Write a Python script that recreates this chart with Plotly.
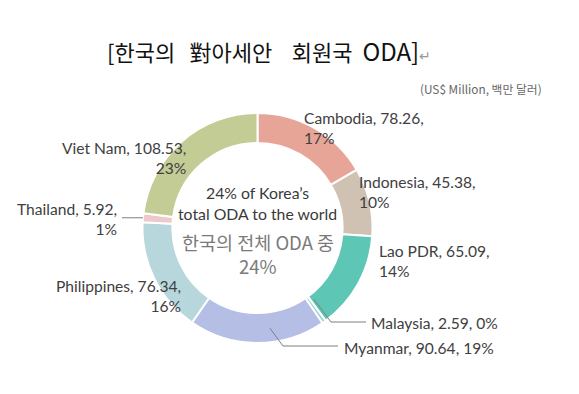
import math
import plotly.graph_objects as go

# ---- data ----
countries = ["Cambodia", "Indonesia", "Lao PDR", "Malaysia", "Myanmar",
             "Philippines", "Thailand", "Viet Nam"]
oda_values = [78.26, 45.38, 65.09, 2.59, 90.64, 76.34, 5.92, 108.53]
pct_labels = ["17%", "10%", "14%", "0%", "19%", "16%", "1%", "23%"]

title_words = ["[한국의", "對아세안", "회원국", "ODA]"]
unit_text = "(US$ Million, 백만 달러)"
center_lines_en = ["24% of Korea’s", "total ODA to the world"]
center_lines_ko = ["한국의 전체 ODA 중", "24%"]

# ---- styles / layout ----
W, H = 579, 394
colors = ["#E7A598", "#CFC2B2", "#5EC6B4", "#9FD3CC", "#B5BEE5",
          "#B7D7DD", "#EEC8CB", "#C3CC95"]
CX, CY, R = 257.5, 228.0, 115.0
HOLE = 0.74
FONT_EN = "Lato, Noto Sans, sans-serif"
FONT_KO = "Noto Sans CJK KR, Noto Sans, sans-serif"

def px(x):
    return x / W

def py(y):
    return 1 - y / H

# label layout: (x, y of first line, anchor, second line on new line?)
label_pos = {
    "Cambodia": (302, 117, "left", True),
    "Indonesia": (357, 181, "left", True),
    "Lao PDR": (377, 250, "left", True),
    "Malaysia": (369, 322, "left", False),
    "Myanmar": (342, 347, "left", False),
    "Philippines": (183, 285, "right", True),
    "Thailand": (119, 208, "right", True),
    "Viet Nam": (188, 147, "right", True),
}

fig = go.Figure()
fig.add_trace(go.Pie(
    labels=countries, values=oda_values, sort=False, direction="clockwise",
    rotation=0, hole=HOLE, textinfo="none", hoverinfo="label+value+percent",
    marker=dict(colors=colors, line=dict(color="white", width=2)),
    domain=dict(x=[px(CX - R), px(CX + R)], y=[py(CY + R), py(CY - R)]),
    showlegend=False,
))

annotations = []
for name, val, pct in zip(countries, oda_values, pct_labels):
    x, y, side, two = label_pos[name]
    txt = f"{name}, {val:.2f},<br>{pct}" if two else f"{name}, {val:.2f}, {pct}"
    annotations.append(dict(
        x=px(x), y=py(y - 10), xref="paper", yref="paper", text=txt,
        showarrow=False, xanchor=side, yanchor="top", align=side,
        font=dict(family=FONT_EN, size=15.6, color="#404040"),
    ))

sp = "\u00a0"
title_html = (title_words[0] + sp * 2 + "\u2009" + title_words[1] + sp * 4
              + title_words[2] + sp * 2 + "<span style='font-size:24px'>"
              + title_words[3] + "</span>"
              + "<span style='color:#999;font-size:14px'>↵</span>")
annotations.append(dict(
    x=px(105), y=py(50), xref="paper", yref="paper", text=title_html,
    showarrow=False, xanchor="left", yanchor="middle",
    font=dict(family=FONT_KO, size=22, color="#111111"),
))
annotations.append(dict(
    x=px(544), y=py(88), xref="paper", yref="paper", text=unit_text,
    showarrow=False, xanchor="right", yanchor="middle",
    font=dict(family=FONT_KO, size=11.8, color="#666666"),
))
for i, t in enumerate(center_lines_en):
    annotations.append(dict(
        x=px(CX), y=py(192 + 22 * i), xref="paper", yref="paper", text=t,
        showarrow=False, xanchor="center", yanchor="middle",
        font=dict(family=FONT_EN, size=15.8, color="#3a3a3a"),
    ))
for i, t in enumerate(center_lines_ko):
    annotations.append(dict(
        x=px(CX), y=py(242 + 24 * i), xref="paper", yref="paper", text=t,
        showarrow=False, xanchor="center", yanchor="middle",
        font=dict(family=FONT_KO, size=18.5, color="#7a7a7a"),
    ))

# ---- leader lines, starting from slice mid-angles ----
total = sum(oda_values)
cum = 0.0
mid_angle = {}
for name, v in zip(countries, oda_values):
    mid_angle[name] = (cum + v / 2) / total * 360.0
    cum += v

def polar(theta, r):
    t = math.radians(theta)
    return CX + r * math.sin(t), CY - r * math.cos(t)

shapes = []
def leader(points):
    path = "M " + " L ".join(f"{px(a)},{py(b)}" for a, b in points)
    shapes.append(dict(type="path", path=path, xref="paper", yref="paper",
                       line=dict(color="#7f7f7f", width=1)))

sx, sy = polar(mid_angle["Malaysia"] - 3, R * HOLE + 6)
leader([(sx, sy), (331, 322), (366, 322)])
sx, sy = polar(mid_angle["Myanmar"] - 7.3, R - 14)
leader([(sx, sy), (283, 346), (338, 346)])
sx, sy = polar(mid_angle["Thailand"], R)
leader([(sx, sy), (122, sy)])

fig.update_layout(
    width=W, height=H, margin=dict(l=0, r=0, t=0, b=0),
    paper_bgcolor="white", plot_bgcolor="white",
    annotations=annotations, shapes=shapes,
)
fig.write_html("out.html", config={"displayModeBar": False},
               post_script="document.body.style.margin='0';")
